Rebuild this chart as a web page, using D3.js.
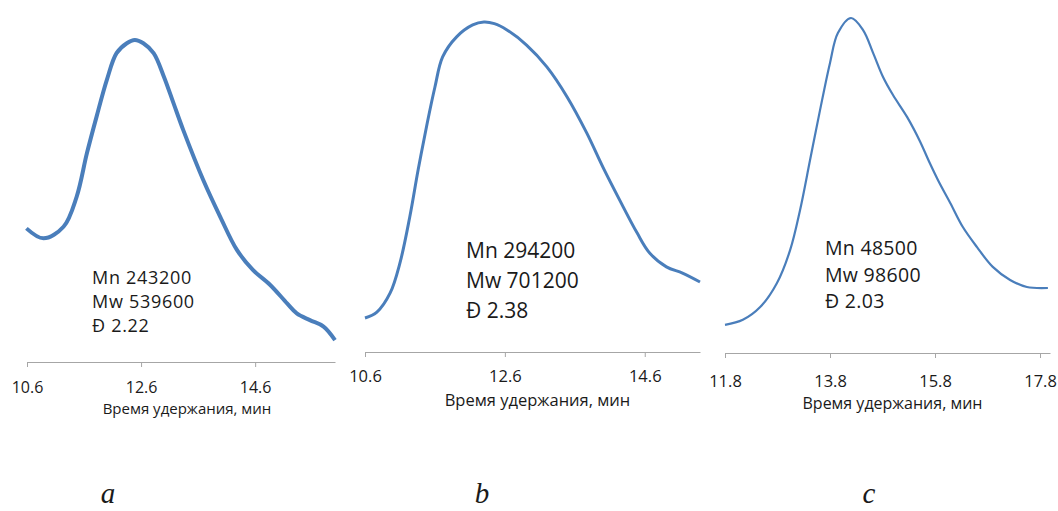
<!DOCTYPE html>
<html>
<head>
<meta charset="utf-8">
<script src="https://cdn.jsdelivr.net/npm/d3@7"></script>
<style>
  body { margin: 0; background: #fff; }
  text { font-family: "Open Sans", sans-serif; fill: #1a1a1a; }
  .axis path, .axis line { stroke: #a6a6a6; }
  .label { font-family: "Liberation Serif", "DejaVu Serif", serif; font-style: italic; }
</style>
</head>
<body>
<div class="root"></div>
<script>
// retention time (min) and detector signal (% of peak)
const timeA = [10.59, 10.89, 11.24, 11.47, 11.65, 11.82, 12.00, 12.17, 12.35, 12.49, 12.64, 12.82, 13.00, 13.17, 13.34, 13.69, 13.99, 14.28, 14.56, 14.86, 15.16, 15.33, 15.56, 15.80, 16.00];
const signalA = [41.5, 38.4, 42.0, 51.3, 64.8, 76.2, 87.6, 95.9, 99.0, 100, 99.0, 95.9, 88.6, 80.3, 72.0, 56.5, 45.0, 34.8, 28.6, 24.0, 18.2, 15.1, 13.0, 11.0, 6.8];

const timeB = [10.60, 10.77, 10.96, 11.10, 11.24, 11.36, 11.49, 11.60, 11.71, 11.91, 12.14, 12.30, 12.45, 12.63, 12.91, 13.20, 13.49, 13.77, 14.00, 14.24, 14.49, 14.67, 14.91, 15.14, 15.39];
const signalB = [10.3, 12.1, 17.9, 27.0, 40.9, 55.2, 69.4, 80.3, 89.4, 95.5, 99.1, 100, 99.5, 97.6, 93.0, 86.4, 77.3, 66.4, 56.1, 46.1, 36.1, 30.0, 25.8, 23.9, 21.2];

const timeC = [11.80, 12.14, 12.47, 12.79, 13.04, 13.23, 13.42, 13.61, 13.80, 13.95, 14.20, 14.43, 14.62, 14.81, 15.00, 15.27, 15.51, 15.70, 15.86, 16.09, 16.33, 16.60, 16.90, 17.23, 17.55, 17.95];
const signalC = [8.4, 9.9, 13.7, 20.9, 30.7, 42.7, 57.6, 72.5, 86.6, 95.5, 100, 96.4, 89.6, 82.4, 77.0, 70.4, 63.3, 56.7, 51.5, 44.8, 37.6, 31.6, 25.7, 21.8, 19.7, 19.4];

const ticksA = [10.6, 12.6, 14.6];
const ticksB = [10.6, 12.6, 14.6];
const ticksC = [11.8, 13.8, 15.8, 17.8];

const notesA = ["Mn 243200", "Mw 539600", "Đ 2.22"];
const notesB = ["Mn 294200", "Mw 701200", "Đ 2.38"];
const notesC = ["Mn 48500", "Mw 98600", "Đ 2.03"];

const panelNames = ["a", "b", "c"];
const axisTitle = "Время удержания, мин";

const w = 1058;
const h = 511;

const svg = d3.select(".root")
              .append("svg")
              .attr("width", w)
              .attr("height", h);

// layout of the three panels (pixels)
const panels = [
  { t: timeA, s: signalA, ticks: ticksA, notes: notesA, name: panelNames[0],
    xDom: [10.6, 16.0], x0: 27, x1: 335, axisY: 362, top: 40, stroke: 4,
    tickY: 393, tickFs: 16, titleY: 414, titleFs: 15, titleDx: 6,
    noteX: 92, noteY: 284, noteFs: 18, noteLs: 0.7, noteGap: 24, labelX: 108 },
  { t: timeB, s: signalB, ticks: ticksB, notes: notesB, name: panelNames[1],
    xDom: [10.6, 15.39], x0: 365, x1: 700, axisY: 352, top: 22, stroke: 3,
    tickY: 382, tickFs: 16.5, titleY: 406, titleFs: 16.5, titleDx: 5,
    noteX: 466, noteY: 258, noteFs: 21, noteLs: 0, noteGap: 30, labelX: 482 },
  { t: timeC, s: signalC, ticks: ticksC, notes: notesC, name: panelNames[2],
    xDom: [11.8, 17.99], x0: 725, x1: 1050, axisY: 353, top: 18, stroke: 2.2,
    tickY: 387, tickFs: 16.5, titleY: 409, titleFs: 16, titleDx: 5,
    noteX: 825, noteY: 255, noteFs: 19.5, noteLs: 0.3, noteGap: 26.5, labelX: 869 }
];

panels.forEach((p) => {
  const xScale = d3.scaleLinear()
                   .domain(p.xDom)
                   .range([p.x0, p.x1]);

  const yScale = d3.scaleLinear()
                   .domain([0, 100])
                   .range([p.axisY, p.top]);

  // x axis
  const xAxis = d3.axisBottom(xScale)
                  .tickValues(p.ticks)
                  .tickSizeInner(5)
                  .tickSizeOuter(0)
                  .tickFormat(d3.format(".1f"));

  const g = svg.append("g")
               .attr("class", "axis")
               .attr("transform", "translate(0," + p.axisY + ")")
               .call(xAxis);

  g.selectAll(".tick text")
   .attr("y", p.tickY - p.axisY)
   .attr("dy", 0)
   .style("font-family", "'Open Sans', sans-serif")
   .style("font-size", p.tickFs + "px")
   .style("fill", "#1a1a1a");

  // axis title
  svg.append("text")
     .attr("x", (p.x0 + p.x1) / 2 + p.titleDx)
     .attr("y", p.titleY)
     .attr("text-anchor", "middle")
     .style("font-size", p.titleFs + "px")
     .text(axisTitle);

  // chromatogram
  const line = d3.line()
                 .x((d, i) => xScale(p.t[i]))
                 .y((d) => yScale(d))
                 .curve(d3.curveCatmullRom.alpha(0.5));

  svg.append("path")
     .datum(p.s)
     .attr("d", line)
     .attr("fill", "none")
     .attr("stroke", "#4a7ebb")
     .attr("stroke-width", p.stroke)
     .attr("stroke-linejoin", "round");

  // molecular weight notes
  svg.selectAll(null)
     .data(p.notes)
     .enter()
     .append("text")
     .attr("x", p.noteX)
     .attr("y", (d, i) => p.noteY + i * p.noteGap)
     .style("font-size", p.noteFs + "px")
     .style("letter-spacing", p.noteLs + "px")
     .text((d) => d);

  // panel letter
  svg.append("text")
     .attr("class", "label")
     .attr("x", p.labelX)
     .attr("y", 503)
     .attr("text-anchor", "middle")
     .style("font-size", "29px")
     .text(p.name);
});
</script>
</body>
</html>
